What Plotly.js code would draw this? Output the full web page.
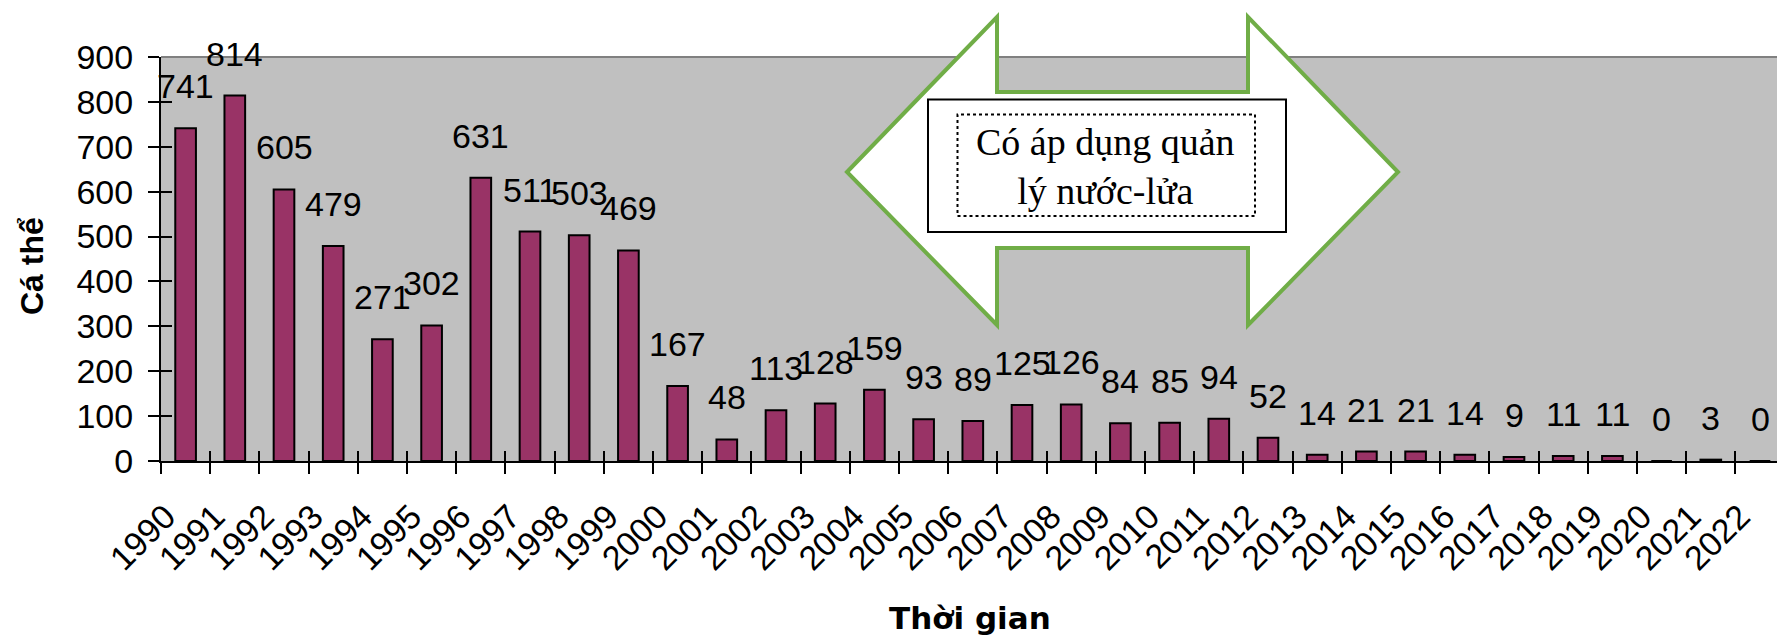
<!DOCTYPE html>
<html>
<head>
<meta charset="utf-8">
<script src="https://cdn.plot.ly/plotly-3.0.1.min.js"></script>
<style>
  html, body { margin: 0; padding: 0; background: #ffffff; }
  #chart { width: 1777px; height: 644px; }
</style>
</head>
<body>
<div id="chart"></div>
<script>
// ---- data ----
const years = ['1990','1991','1992','1993','1994','1995','1996','1997','1998','1999',
               '2000','2001','2002','2003','2004','2005','2006','2007','2008','2009',
               '2010','2011','2012','2013','2014','2015','2016','2017','2018','2019',
               '2020','2021','2022'];
const counts = [741, 814, 605, 479, 271, 302, 631, 511, 503, 469,
                167, 48, 113, 128, 159, 93, 89, 125, 126, 84,
                85, 94, 52, 14, 21, 21, 14, 9, 11, 11,
                0, 3, 0];
const yTicks = [0, 100, 200, 300, 400, 500, 600, 700, 800, 900];
const xTitle = 'Thời gian';
const yTitle = 'Cá thể';
const noteText = 'Có áp dụng quản<br>lý nước-lửa';

// ---- layout geometry (pixels) ----
const W = 1777, H = 644;
const M = { l: 161, r: 0, t: 57, b: 183 };
const PW = W - M.l - M.r, PH = H - M.t - M.b;
const px = (x) => (x - M.l) / PW;          // pixel -> paper x
const py = (y) => (H - M.b - y) / PH;        // pixel -> paper y

const numFont = { family: 'Liberation Sans, Arial, sans-serif', size: 34, color: '#000000' };

const bars = {
  type: 'bar',
  x: years,
  y: counts,
  width: 0.42,
  marker: { color: '#993366', line: { color: '#000000', width: 2 } },
  hoverinfo: 'x+y',
  showlegend: false
};
// dummy trace to create overlay axes used for inside tick marks
const overlay = { type: 'scatter', x: [], y: [], xaxis: 'x2', yaxis: 'y2', showlegend: false, hoverinfo: 'skip' };

// value labels: x given as category index (numeric-looking category strings would be read as serials)
const labelAnnotations = counts.map((v, i) => ({
  x: i, y: v, xref: 'x', yref: 'y',
  text: String(v), showarrow: false,
  yanchor: 'middle', xanchor: 'center', yshift: 42,
  font: numFont
}));

// arrow outline (pixel points) -> paper path
const arrowPts = [[847,172],[997,17],[997,92],[1248,92],[1248,17],[1398,172],[1248,325],[1248,248],[997,248],[997,325]];
const arrowPath = 'M ' + arrowPts.map(p => px(p[0]).toFixed(5) + ' ' + py(p[1]).toFixed(5)).join(' L ') + ' Z';

const boundaries = years.map((_, i) => i - 0.5);
const xRange = [-0.5, -0.5 + PW / 49.2];

const layout = {
  width: W, height: H,
  margin: M,
  paper_bgcolor: '#ffffff',
  plot_bgcolor: '#C0C0C0',
  xaxis: {
    type: 'category',
    range: xRange,
    tickson: 'boundaries',
    ticks: 'outside', ticklen: 11, tickwidth: 2, tickcolor: '#000000',
    tickangle: -45,
    tickfont: numFont,
    ticklabelstandoff: 20,
    ticklabelshift: -20,
    showline: true, linecolor: '#000000', linewidth: 2,
    showgrid: false, zeroline: false,
    fixedrange: true
  },
  yaxis: {
    range: [0, 900],
    tickvals: yTicks,
    ticks: 'outside', ticklen: 11, tickwidth: 2, tickcolor: '#000000',
    tickfont: numFont,
    ticklabelstandoff: 8,
    showline: true, linecolor: '#000000', linewidth: 2,
    showgrid: false, zeroline: false,
    fixedrange: true
  },
  xaxis2: {
    overlaying: 'x', anchor: 'y2', side: 'bottom',
    range: xRange, type: 'linear',
    tickvals: boundaries,
    ticks: 'inside', ticklen: 10, tickwidth: 2, tickcolor: '#000000',
    showticklabels: false, showline: false, showgrid: false, zeroline: false,
    fixedrange: true
  },
  yaxis2: {
    overlaying: 'y', anchor: 'x2', side: 'left',
    range: [0, 900],
    tickvals: yTicks,
    ticks: 'inside', ticklen: 11, tickwidth: 2, tickcolor: '#000000',
    showticklabels: false, showline: false, showgrid: false, zeroline: false,
    fixedrange: true
  },
  shapes: [
    { type: 'line', xref: 'paper', yref: 'paper', x0: 0, x1: 1, y0: 1, y1: 1,
      line: { color: '#808080', width: 2 }, layer: 'below' },
    { type: 'path', xref: 'paper', yref: 'paper', path: arrowPath,
      fillcolor: '#ffffff', line: { color: '#70AD47', width: 4 }, layer: 'above' },
    { type: 'rect', xref: 'paper', yref: 'paper',
      x0: px(928), x1: px(1286), y0: py(232), y1: py(99.5),
      fillcolor: '#ffffff', line: { color: '#000000', width: 2 }, layer: 'above' },
    { type: 'rect', xref: 'paper', yref: 'paper',
      x0: px(957.5), x1: px(1255), y0: py(216), y1: py(114.5),
      fillcolor: 'rgba(0,0,0,0)', line: { color: '#000000', width: 2, dash: 'dot' }, layer: 'above' }
  ],
  annotations: labelAnnotations.concat([
    { xref: 'paper', yref: 'paper', x: px(1105), y: py(166), xanchor: 'center', yanchor: 'middle',
      text: noteText, showarrow: false, align: 'center',
      font: { family: 'Liberation Serif, Times New Roman, serif', size: 38, color: '#000000' } },
    { xref: 'paper', yref: 'paper', x: px(970), y: py(618), xanchor: 'center', yanchor: 'middle',
      text: '<b>' + xTitle + '</b>', showarrow: false,
      font: { family: 'DejaVu Sans, sans-serif', size: 31, color: '#000000' } },
    { xref: 'paper', yref: 'paper', x: px(32), y: py(266), xanchor: 'center', yanchor: 'middle',
      text: '<b>' + yTitle + '</b>', showarrow: false, textangle: -90,
      font: { family: 'Liberation Sans, Arial, sans-serif', size: 32, color: '#000000' } }
  ])
};

Plotly.newPlot('chart', [bars, overlay], layout, { displayModeBar: false, staticPlot: true });
</script>
</body>
</html>
